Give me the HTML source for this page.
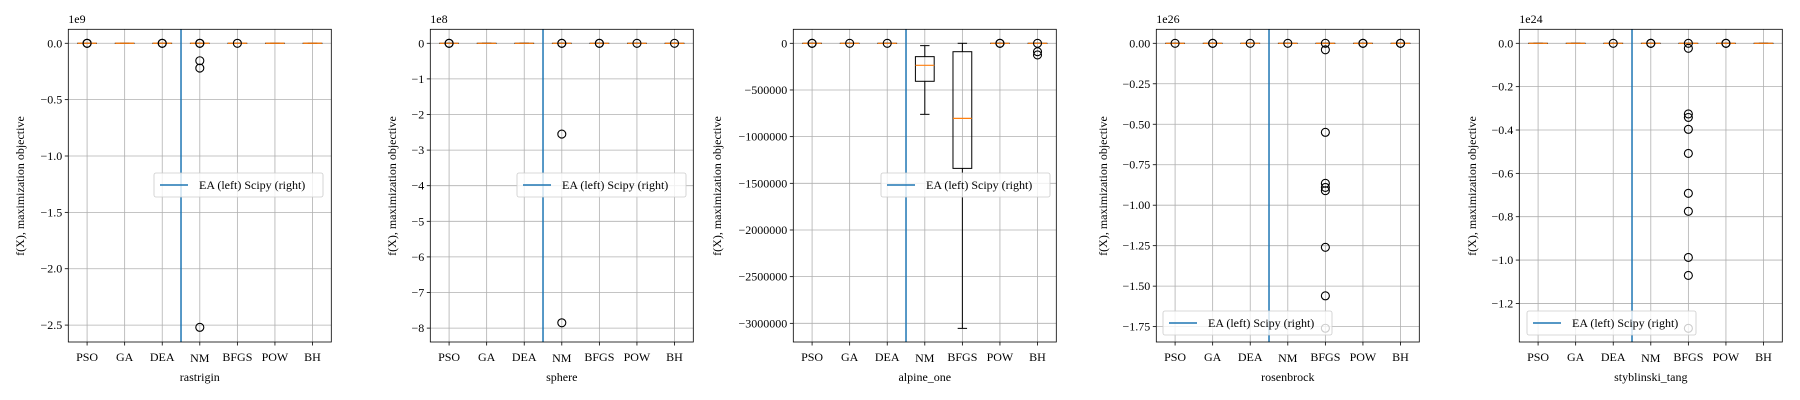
<!DOCTYPE html>
<html><head><meta charset="utf-8"><style>
html,body{margin:0;padding:0;background:#fff;}
svg{display:block;font-family:"Liberation Serif",serif;}
</style></head><body>
<svg id="chart" width="1800" height="400" viewBox="0 0 1800 400" xmlns="http://www.w3.org/2000/svg"></svg>
<script>
const categories = ["PSO","GA","DEA","NM","BFGS","POW","BH"];
const panelTitles = ["rastrigin","sphere","alpine_one","rosenbrock","styblinski_tang"];
const offsetTexts = ["1e9","1e8","","1e26","1e24"];
const yLimits = [[-2.65,0.124],[-8.39,0.393],[-3200000,150000],[-1.845,0.0865],[-1.378,0.0646]];
const yTicks0 = [0,-0.5,-1.0,-1.5,-2.0,-2.5];
const yTicks1 = [0,-1,-2,-3,-4,-5,-6,-7,-8];
const yTicks2 = [0,-500000,-1000000,-1500000,-2000000,-2500000,-3000000];
const yTicks3 = [0,-0.25,-0.5,-0.75,-1.0,-1.25,-1.5,-1.75];
const yTicks4 = [0,-0.2,-0.4,-0.6,-0.8,-1.0,-1.2];
const yTickLabels0 = ["0.0","\u22120.5","\u22121.0","\u22121.5","\u22122.0","\u22122.5"];
const yTickLabels1 = ["0","\u22121","\u22122","\u22123","\u22124","\u22125","\u22126","\u22127","\u22128"];
const yTickLabels2 = ["0","\u2212500000","\u22121000000","\u22121500000","\u22122000000","\u22122500000","\u22123000000"];
const yTickLabels3 = ["0.00","\u22120.25","\u22120.50","\u22120.75","\u22121.00","\u22121.25","\u22121.50","\u22121.75"];
const yTickLabels4 = ["0.0","\u22120.2","\u22120.4","\u22120.6","\u22120.8","\u22121.0","\u22121.2"];
// box stats per category: [whislo, q1, median, q3, whishi]
const boxes0 = [[0,0,0,0,0],[0,0,0,0,0],[0,0,0,0,0],[0,0,0,0,0],[0,0,0,0,0],[0,0,0,0,0],[0,0,0,0,0]];
const boxes1 = [[0,0,0,0,0],[0,0,0,0,0],[0,0,0,0,0],[0,0,0,0,0],[0,0,0,0,0],[0,0,0,0,0],[0,0,0,0,0]];
const boxes2 = [[0,0,0,0,0],[0,0,0,0,0],[0,0,0,0,0],[-761000,-407000,-236000,-143000,-25000],[-3054000,-1340000,-804000,-90000,0],[0,0,0,0,0],[0,0,0,0,0]];
const boxes3 = [[0,0,0,0,0],[0,0,0,0,0],[0,0,0,0,0],[0,0,0,0,0],[0,0,0,0,0],[0,0,0,0,0],[0,0,0,0,0]];
const boxes4 = [[0,0,0,0,0],[0,0,0,0,0],[0,0,0,0,0],[0,0,0,0,0],[0,0,0,0,0],[0,0,0,0,0],[0,0,0,0,0]];
// outliers per category
const outliers0 = [[0,0],[],[0,0],[0,0,-0.155,-0.22,-2.52],[0],[],[]];
const outliers1 = [[0,0],[],[],[0,0,-2.55,-7.85],[0,0],[0],[0]];
const outliers2 = [[0,0],[0],[0],[],[],[0,0],[0,-90000,-125000]];
const outliers3 = [[0],[0,0],[0],[0],[0,-0.04,-0.55,-0.865,-0.89,-0.91,-1.26,-1.56,-1.76],[0,0],[0,0]];
const outliers4 = [[],[],[0],[0,0],[0,-0.023,-0.326,-0.342,-0.397,-0.508,-0.692,-0.775,-0.988,-1.071,-1.315],[0,0],[]];
const dividerPosition = 3.5;
const legendLabel = "EA (left) Scipy (right)";

const yTicksAll=[yTicks0,yTicks1,yTicks2,yTicks3,yTicks4];
const yLabelsAll=[yTickLabels0,yTickLabels1,yTickLabels2,yTickLabels3,yTickLabels4];
const boxesAll=[boxes0,boxes1,boxes2,boxes3,boxes4];
const outliersAll=[outliers0,outliers1,outliers2,outliers3,outliers4];
const panelLeft=[68.3,430.3,793.3,1156.3,1519.3];
const W=263, TOP=29.3, BOT=342;
const legendPos=[[154,173],[517,173],[881,173],[1163,311],[1527,311]];
const ylabelX=[20,392,717,1103,1472];
const NS="http://www.w3.org/2000/svg";
const svg=document.getElementById('chart');
function mk(tag,attrs,parent){const e=document.createElementNS(NS,tag);for(const k in attrs)e.setAttribute(k,attrs[k]);(parent||svg).appendChild(e);return e;}

for(let p=0;p<5;p++){
  const L=panelLeft[p], R=L+W;
  const [ymin,ymax]=yLimits[p];
  const xs=v=>L+(v-0.5)/categories.length*W;
  const ys=v=>BOT-(v-ymin)/(ymax-ymin)*(BOT-TOP);
  const g=mk('g',{});
  
  
  // grid
  yTicksAll[p].forEach((t,i)=>{
    const y=ys(t);
    const gl=mk('line',{x1:L,x2:R,y1:y,y2:y,stroke:'#b0b0b0','stroke-width':0.8},g);
    
    
    mk('line',{x1:L-3.5,x2:L,y1:y,y2:y,stroke:'#000','stroke-width':0.8},g);
    const tx=mk('text',{x:L-6,y:y+4,'text-anchor':'end','font-size':12,fill:'#000'},g);
    tx.textContent=yLabelsAll[p][i];
    
    
  });
  categories.forEach((c,i)=>{
    const x=xs(i+1);
    const gl=mk('line',{x1:x,x2:x,y1:TOP,y2:BOT,stroke:'#b0b0b0','stroke-width':0.8},g);
    
    
    mk('line',{x1:x,x2:x,y1:BOT,y2:BOT+3.5,stroke:'#000','stroke-width':0.8},g);
    const tx=mk('text',{x:x,y:c==='NM'?362:361,'text-anchor':'middle','font-size':12,fill:'#000'},g);
    tx.textContent=c;
    
    
  });
  // boxes
  const bw=0.5*W/categories.length;
  boxesAll[p].forEach((b,i)=>{
    const x=xs(i+1);
    const [lo,q1,med,q3,hi]=b;
    const bg=mk('g',{},g);
    
    
    mk('line',{x1:x,x2:x,y1:ys(q1),y2:ys(lo),stroke:'#000','stroke-width':1},bg);
    mk('line',{x1:x,x2:x,y1:ys(q3),y2:ys(hi),stroke:'#000','stroke-width':1},bg);
    mk('line',{x1:x-bw/4,x2:x+bw/4,y1:ys(lo),y2:ys(lo),stroke:'#000','stroke-width':1},bg);
    mk('line',{x1:x-bw/4,x2:x+bw/4,y1:ys(hi),y2:ys(hi),stroke:'#000','stroke-width':1},bg);
    mk('rect',{x:x-bw/2,y:ys(q3),width:bw,height:Math.max(0.01,ys(q1)-ys(q3)),fill:'none',stroke:'#000','stroke-width':1},bg);
    mk('line',{x1:x-bw/2,x2:x+bw/2,y1:ys(med),y2:ys(med),stroke:'#ff7f0e','stroke-width':1.2},bg);
  });
  outliersAll[p].forEach((arr,i)=>{
    const x=xs(i+1);
    arr.forEach(v=>{
      const c=mk('circle',{cx:x,cy:ys(v),r:4,fill:'none',stroke:'#000','stroke-width':1.1},g);
      
      
    });
  });
  // divider
  const dv=mk('line',{x1:xs(dividerPosition),x2:xs(dividerPosition),y1:TOP,y2:BOT,stroke:'#1f77b4','stroke-width':1.5},g);
  
  
  // frame
  const fr=mk('rect',{x:L,y:TOP,width:W,height:BOT-TOP,fill:'none',stroke:'#000','stroke-width':0.8},g);
  
  
  // offset text
  if(offsetTexts[p]){
    const ot=mk('text',{x:L,y:23,'font-size':12,fill:'#000'},g);
    ot.textContent=offsetTexts[p];
    
    
  }
  // x label
  const xl=mk('text',{x:L+W/2,y:381,'text-anchor':'middle','font-size':12,fill:'#000'},g);
  xl.textContent=panelTitles[p];
  
  
  // y label
  const yx=ylabelX[p];
  const yl=mk('text',{x:yx,y:186,'text-anchor':'middle','font-size':12,fill:'#000',transform:`rotate(-90 ${yx} 186) translate(0 4)`},g);
  yl.textContent='f(X), maximization objective';
  
  
  // legend
  const [lx,ly]=legendPos[p];
  const lg=mk('g',{},g);
  
  
  mk('rect',{x:lx,y:ly,width:169,height:24,rx:2,fill:'#fff','fill-opacity':0.8,stroke:'#ccc','stroke-width':0.8},lg);
  mk('line',{x1:lx+6,x2:lx+34,y1:ly+12,y2:ly+12,stroke:'#1f77b4','stroke-width':1.5},lg);
  const lt=mk('text',{x:lx+45,y:ly+16,'font-size':12,fill:'#000'},lg);
  lt.textContent=legendLabel;
  
  
}
</script>
</body></html>
